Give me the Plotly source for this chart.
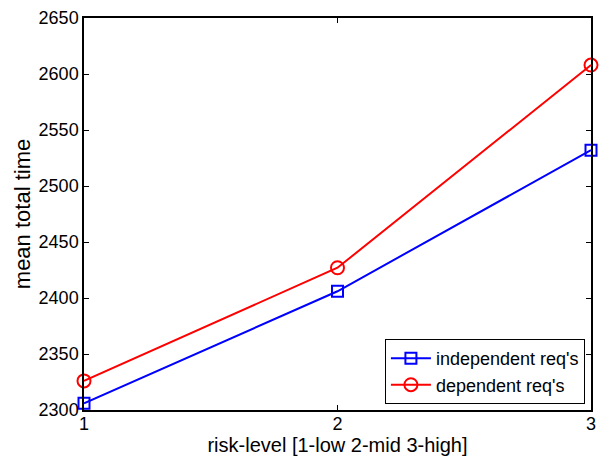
import plotly.graph_objects as go

risk_levels = [1, 2, 3]
independent_reqs = [2306, 2406, 2532]
dependent_reqs = [2326, 2427, 2608]
y_ticks = [2300, 2350, 2400, 2450, 2500, 2550, 2600, 2650]
x_ticks = [1, 2, 3]

fig = go.Figure()
fig.add_trace(go.Scatter(
    x=risk_levels, y=independent_reqs, mode="lines+markers",
    name="independent req's",
    line=dict(color="#0000ff", width=2),
    marker=dict(symbol="square-open", size=11, color="#0000ff", line=dict(width=2)),
    cliponaxis=False,
))
fig.add_trace(go.Scatter(
    x=risk_levels, y=dependent_reqs, mode="lines+markers",
    name="dependent req's",
    line=dict(color="#ff0000", width=2),
    marker=dict(symbol="circle-open", size=13, color="#ff0000", line=dict(width=2)),
    cliponaxis=False,
))

axis_common = dict(
    showline=True, linecolor="black", linewidth=1.5, mirror="ticks",
    ticks="inside", ticklen=5, tickcolor="black", tickwidth=1,
    showgrid=False, zeroline=False, automargin=False,
    tickfont=dict(family="Liberation Sans, Arial", size=18, color="black"),
)

fig.update_layout(
    width=599, height=457,
    margin=dict(l=84, r=8, t=18, b=47),
    paper_bgcolor="white", plot_bgcolor="white",
    font=dict(family="Liberation Sans, Arial", size=18, color="black"),
    xaxis=dict(range=[1, 3], tickvals=x_ticks, ticklabelstandoff=-3,
               title=dict(text="risk-level [1-low 2-mid 3-high]", standoff=2,
                          font=dict(size=20)),
               **axis_common),
    yaxis=dict(range=[2300, 2650], tickvals=y_ticks,
               title=dict(text="mean total time", standoff=2, font=dict(size=22)),
               **axis_common),
    legend=dict(x=0.988, y=0.015, xanchor="right", yanchor="bottom",
                bgcolor="white", bordercolor="black", borderwidth=1,
                font=dict(size=18), tracegroupgap=0, itemwidth=40),
    showlegend=True,
)

fig.write_html("out.html", config={"displayModeBar": False},
               post_script="document.body.style.margin='0';document.body.style.overflow='hidden';")
